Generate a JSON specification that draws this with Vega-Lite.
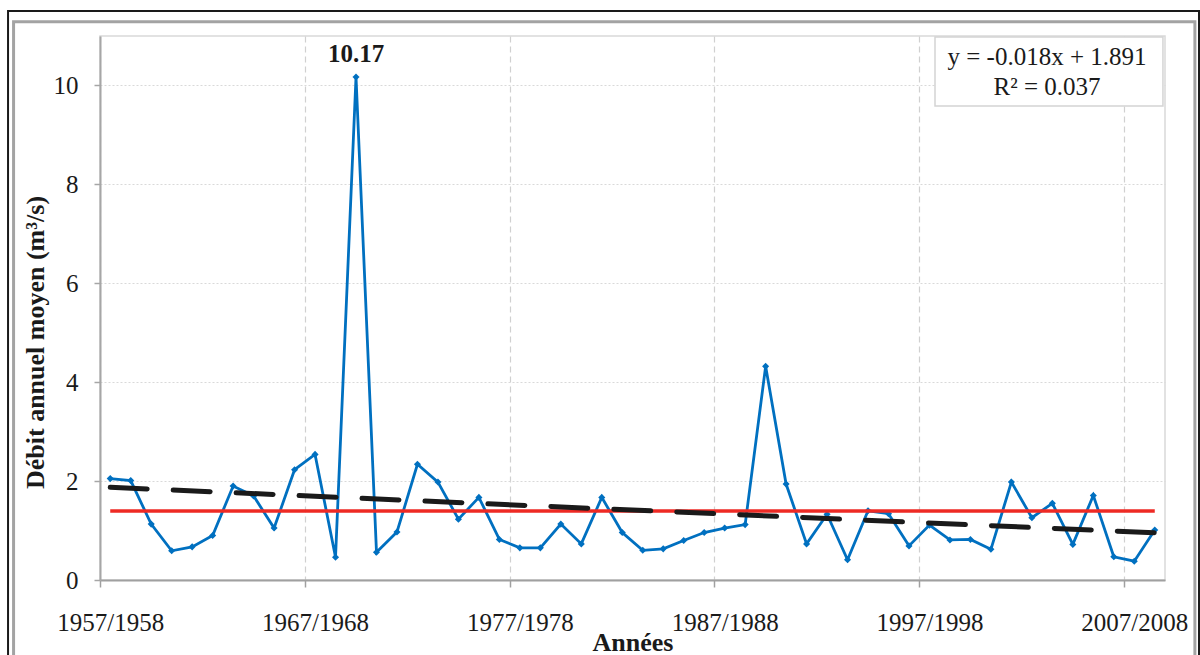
{
  "$schema": "https://vega.github.io/schema/vega-lite/v6.json",
  "width": 1065,
  "height": 544,
  "autosize": "none",
  "padding": {"left": 100, "top": 36, "right": 35, "bottom": 75},
  "background": "white",
  "config": {
    "view": {"stroke": "#d9d9d9", "strokeWidth": 1.5},
    "font": "Liberation Serif"
  },
  "datasets": {
    "flow": [
      {"annee": "1957/1958", "n": 1, "q": 2.05},
      {"annee": "1958/1959", "n": 2, "q": 2.01},
      {"annee": "1959/1960", "n": 3, "q": 1.13},
      {"annee": "1960/1961", "n": 4, "q": 0.59},
      {"annee": "1961/1962", "n": 5, "q": 0.67},
      {"annee": "1962/1963", "n": 6, "q": 0.90},
      {"annee": "1963/1964", "n": 7, "q": 1.90},
      {"annee": "1964/1965", "n": 8, "q": 1.70},
      {"annee": "1965/1966", "n": 9, "q": 1.05},
      {"annee": "1966/1967", "n": 10, "q": 2.23},
      {"annee": "1967/1968", "n": 11, "q": 2.54},
      {"annee": "1968/1969", "n": 12, "q": 0.46},
      {"annee": "1969/1970", "n": 13, "q": 10.17},
      {"annee": "1970/1971", "n": 14, "q": 0.56},
      {"annee": "1971/1972", "n": 15, "q": 0.97},
      {"annee": "1972/1973", "n": 16, "q": 2.34},
      {"annee": "1973/1974", "n": 17, "q": 1.98},
      {"annee": "1974/1975", "n": 18, "q": 1.23},
      {"annee": "1975/1976", "n": 19, "q": 1.67},
      {"annee": "1976/1977", "n": 20, "q": 0.82},
      {"annee": "1977/1978", "n": 21, "q": 0.65},
      {"annee": "1978/1979", "n": 22, "q": 0.65},
      {"annee": "1979/1980", "n": 23, "q": 1.13},
      {"annee": "1980/1981", "n": 24, "q": 0.73},
      {"annee": "1981/1982", "n": 25, "q": 1.67},
      {"annee": "1982/1983", "n": 26, "q": 0.96},
      {"annee": "1983/1984", "n": 27, "q": 0.60},
      {"annee": "1984/1985", "n": 28, "q": 0.63},
      {"annee": "1985/1986", "n": 29, "q": 0.80},
      {"annee": "1986/1987", "n": 30, "q": 0.96},
      {"annee": "1987/1988", "n": 31, "q": 1.05},
      {"annee": "1988/1989", "n": 32, "q": 1.12},
      {"annee": "1989/1990", "n": 33, "q": 4.32},
      {"annee": "1990/1991", "n": 34, "q": 1.94},
      {"annee": "1991/1992", "n": 35, "q": 0.73},
      {"annee": "1992/1993", "n": 36, "q": 1.33},
      {"annee": "1993/1994", "n": 37, "q": 0.41},
      {"annee": "1994/1995", "n": 38, "q": 1.40},
      {"annee": "1995/1996", "n": 39, "q": 1.34},
      {"annee": "1996/1997", "n": 40, "q": 0.69},
      {"annee": "1997/1998", "n": 41, "q": 1.11},
      {"annee": "1998/1999", "n": 42, "q": 0.81},
      {"annee": "1999/2000", "n": 43, "q": 0.82},
      {"annee": "2000/2001", "n": 44, "q": 0.62},
      {"annee": "2001/2002", "n": 45, "q": 1.98},
      {"annee": "2002/2003", "n": 46, "q": 1.26},
      {"annee": "2003/2004", "n": 47, "q": 1.55},
      {"annee": "2004/2005", "n": 48, "q": 0.72},
      {"annee": "2005/2006", "n": 49, "q": 1.71},
      {"annee": "2006/2007", "n": 50, "q": 0.47},
      {"annee": "2007/2008", "n": 51, "q": 0.38},
      {"annee": "2008/2009", "n": 52, "q": 1.01}
    ],
    "trend": [
      {"n": 1, "t": 1.873},
      {"n": 52, "t": 0.955}
    ]
  },
  "layer": [
    {
      "data": {"values": [{}]},
      "mark": {"type": "rect", "fill": "transparent", "stroke": "#1a1a1a", "strokeWidth": 2, "clip": false},
      "encoding": {
        "x": {"datum": -3.99, "type": "quantitative", "scale": {"domain": [0.5, 52.5], "nice": false, "zero": false}},
        "x2": {"datum": 54.16},
        "y": {"datum": 11.505, "type": "quantitative", "scale": {"domain": [0, 11], "nice": false}},
        "y2": {"datum": -1.8}
      }
    },
    {
      "data": {"values": [{}]},
      "mark": {"type": "rect", "fill": "transparent", "stroke": "#a3a3a3", "strokeWidth": 3, "clip": false},
      "encoding": {
        "x": {"datum": -3.72, "type": "quantitative"},
        "x2": {"datum": 53.96},
        "y": {"datum": 11.29, "type": "quantitative"},
        "y2": {"datum": -1.8}
      }
    },
    {
      "data": {"name": "flow"},
      "mark": {"type": "line", "color": "#0070c0", "strokeWidth": 2.8,
        "point": {"filled": true, "shape": "diamond", "size": 50, "color": "#0070c0"}},
      "encoding": {
        "x": {
          "field": "n", "type": "quantitative",
          "scale": {"domain": [0.5, 52.5], "nice": false, "zero": false},
          "axis": {
            "values": [1, 11, 21, 31, 41, 51],
            "labelExpr": "(1956 + datum.value) + '/' + (1957 + datum.value)",
            "tickOffset": -10.24,
            "labelOffset": 10.24,
            "labelFlush": false,
            "labelOverlap": false,
            "grid": true,
            "gridDash": [6, 4],
            "gridColor": "#d0d0d0",
            "gridWidth": 1.2,
            "domainColor": "#a0a0a0",
            "domainWidth": 2,
            "tickColor": "#a0a0a0",
            "tickSize": 7,
            "tickWidth": 1.5,
            "labelFont": "Liberation Serif",
            "labelFontSize": 25,
            "labelColor": "#1a1a1a",
            "labelPadding": 23,
            "title": "Années",
            "titleFont": "Liberation Serif",
            "titleFontSize": 26,
            "titleFontWeight": "bold",
            "titleColor": "#1a1a1a",
            "titleY": 70,
            "titleBaseline": "alphabetic"
          }
        },
        "y": {
          "field": "q", "type": "quantitative",
          "scale": {"domain": [0, 11], "nice": false},
          "axis": {
            "values": [0, 2, 4, 6, 8, 10],
            "grid": true,
            "gridDash": [2, 2],
            "gridColor": "#d9d9d9",
            "gridWidth": 1.2,
            "domainColor": "#a6a6a6",
            "domainWidth": 2,
            "tickColor": "#a6a6a6",
            "tickSize": 6,
            "tickWidth": 1.5,
            "labelFont": "Liberation Serif",
            "labelFontSize": 25,
            "labelColor": "#1a1a1a",
            "labelPadding": 16,
            "title": "Débit annuel moyen (m³/s)",
            "titleFont": "Liberation Serif",
            "titleFontSize": 26,
            "titleFontWeight": "bold",
            "titleColor": "#1a1a1a",
            "titleX": -57,
            "titleY": 306,
            "titleAngle": -90,
            "titleAlign": "center",
            "titleBaseline": "alphabetic"
          }
        }
      }
    },
    {
      "data": {"name": "flow"},
      "mark": {"type": "rule", "color": "#ee2a24", "strokeWidth": 3.5},
      "encoding": {
        "x": {"aggregate": "min", "field": "n", "type": "quantitative"},
        "x2": {"aggregate": "max", "field": "n"},
        "y": {"aggregate": "mean", "field": "q", "type": "quantitative"}
      }
    },
    {
      "data": {"name": "trend"},
      "mark": {"type": "line", "color": "#1a1a1a", "strokeWidth": 5, "strokeDash": [37, 26], "strokeCap": "round"},
      "encoding": {
        "x": {"field": "n", "type": "quantitative"},
        "y": {"field": "t", "type": "quantitative"}
      }
    },
    {
      "data": {"name": "flow"},
      "transform": [{"filter": "datum.q > 10"}],
      "mark": {"type": "text", "font": "Liberation Serif", "fontSize": 25, "fontWeight": "bold", "color": "#1a1a1a", "dy": -15, "baseline": "alphabetic", "align": "center"},
      "encoding": {
        "x": {"field": "n", "type": "quantitative"},
        "y": {"field": "q", "type": "quantitative"},
        "text": {"field": "q", "type": "quantitative", "format": ".2f"}
      }
    },
    {
      "data": {"values": [{}]},
      "mark": {"type": "rect", "fill": "white", "stroke": "#d4d4d4", "strokeWidth": 1.5},
      "encoding": {
        "x": {"datum": 41.27, "type": "quantitative"},
        "x2": {"datum": 52.4},
        "y": {"datum": 10.98, "type": "quantitative"},
        "y2": {"datum": 9.585}
      }
    },
    {
      "data": {"values": [{}]},
      "mark": {"type": "text", "font": "Liberation Serif", "fontSize": 25, "color": "#1a1a1a", "align": "center", "baseline": "alphabetic", "lineHeight": 30,
        "text": ["y = -0.018x + 1.891", "R² = 0.037"]},
      "encoding": {
        "x": {"datum": 46.74, "type": "quantitative"},
        "y": {"datum": 10.41, "type": "quantitative"}
      }
    }
  ]
}
